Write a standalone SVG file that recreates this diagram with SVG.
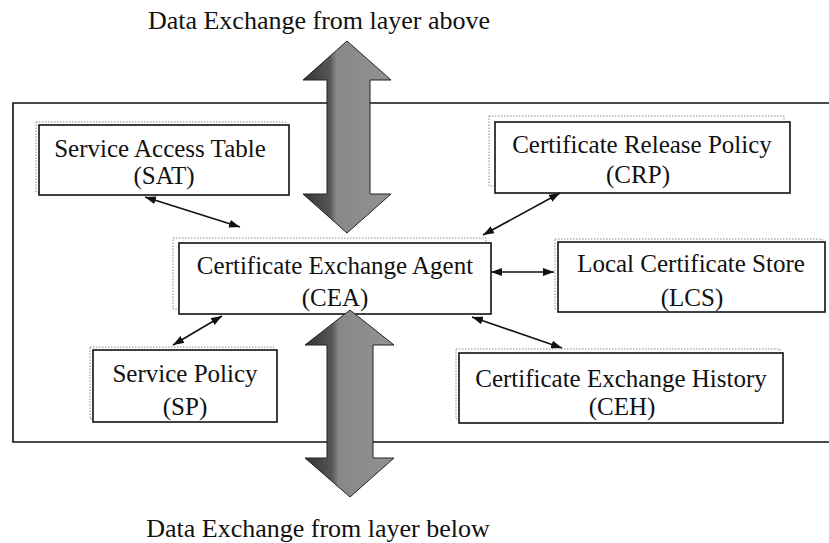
<svg xmlns="http://www.w3.org/2000/svg" width="829" height="543" viewBox="0 0 829 543">
  <defs>
    <style>
      .lbl { font-family: "Liberation Serif", "Times New Roman", serif; font-size: 25px; fill: #111; text-anchor: middle; }
      .title { font-family: "Liberation Serif", "Times New Roman", serif; font-size: 26px; fill: #111; text-anchor: middle; }
      .box { fill: #fff; stroke: #111; stroke-width: 1.6; }
      .ghost { fill: none; stroke: #8a8a8a; stroke-width: 1; stroke-dasharray: 1.5 1.5; }
      .link { stroke: #111; stroke-width: 1.6; fill: none; marker-start: url(#tip); marker-end: url(#tip); }
      .frame { stroke: #111; stroke-width: 1.6; fill: none; }
      .bigarrow { fill: url(#shade); stroke: #222; stroke-width: 1; stroke-linejoin: miter; }
    </style>
    <marker id="tip" viewBox="0 0 11 8" refX="11" refY="4" markerWidth="11" markerHeight="8" markerUnits="userSpaceOnUse" orient="auto-start-reverse">
      <path d="M0,0 L11,4 L0,8 Z" fill="#111"/>
    </marker>
    <linearGradient id="shade" x1="0" y1="0" x2="1" y2="0">
      <stop offset="0" stop-color="#333"/>
      <stop offset="0.3" stop-color="#555"/>
      <stop offset="0.38" stop-color="#888"/>
      <stop offset="1" stop-color="#929292"/>
    </linearGradient>
  </defs>

  <rect width="829" height="543" fill="#fff"/>

  <!-- outer frame, open on the right -->
  <path class="frame" d="M829,103 L13,103 L13,442 L829,442"/>

  <!-- titles -->
  <text class="title" x="319" y="29">Data Exchange from layer above</text>
  <text class="title" x="318" y="537">Data Exchange from layer below</text>

  <!-- nodes -->
  <g id="sat">
    <rect class="ghost" x="36" y="122" width="250" height="70"/>
    <rect class="box" x="39" y="125" width="250" height="70"/>
    <text class="lbl" x="160" y="157">Service Access Table</text>
    <text class="lbl" x="164" y="184">(SAT)</text>
  </g>

  <g id="crp">
    <rect class="ghost" x="489" y="116" width="295" height="70"/>
    <rect class="box" x="495" y="122" width="295" height="71"/>
    <text class="lbl" x="642" y="153">Certificate Release Policy</text>
    <text class="lbl" x="638" y="183">(CRP)</text>
  </g>

  <g id="cea">
    <rect class="ghost" x="173" y="238" width="313" height="71"/>
    <rect class="box" x="179" y="243" width="312" height="71"/>
    <text class="lbl" x="335" y="274">Certificate Exchange Agent</text>
    <text class="lbl" x="335" y="306">(CEA)</text>
  </g>

  <g id="lcs">
    <rect class="ghost" x="555" y="239" width="267" height="70"/>
    <rect class="box" x="558" y="242" width="267" height="70"/>
    <text class="lbl" x="691" y="272">Local Certificate Store</text>
    <text class="lbl" x="692" y="306">(LCS)</text>
  </g>

  <g id="ceh">
    <rect class="ghost" x="456" y="349" width="324" height="70"/>
    <rect class="box" x="459" y="353" width="324" height="70"/>
    <text class="lbl" x="621" y="387">Certificate Exchange History</text>
    <text class="lbl" x="622" y="415">(CEH)</text>
  </g>

  <g id="sp">
    <rect class="ghost" x="90" y="347" width="184" height="72"/>
    <rect class="box" x="93" y="350" width="184" height="72"/>
    <text class="lbl" x="185" y="382">Service Policy</text>
    <text class="lbl" x="185" y="415">(SP)</text>
  </g>

  <!-- connectors -->
  <g id="connectors">
    <line class="link" x1="145" y1="197" x2="240" y2="227"/>
    <line class="link" x1="560" y1="193" x2="483" y2="235"/>
    <line class="link" x1="491" y1="272" x2="554" y2="272"/>
    <line class="link" x1="472" y1="317" x2="562" y2="348"/>
    <line class="link" x1="222" y1="316" x2="173" y2="345"/>
  </g>

  <!-- wide two-way data arrows -->
  <g id="flow-above">
    <polygon class="bigarrow" points="347,41 391,80 370,80 370,194 391,194 347,233 303,194 327,194 327,80 303,80"/>
  </g>
  <g id="flow-below">
    <polygon class="bigarrow" points="350,310 394,345 373,345 373,458 394,458 350,497 305,458 327,458 327,345 305,345"/>
  </g>
</svg>
